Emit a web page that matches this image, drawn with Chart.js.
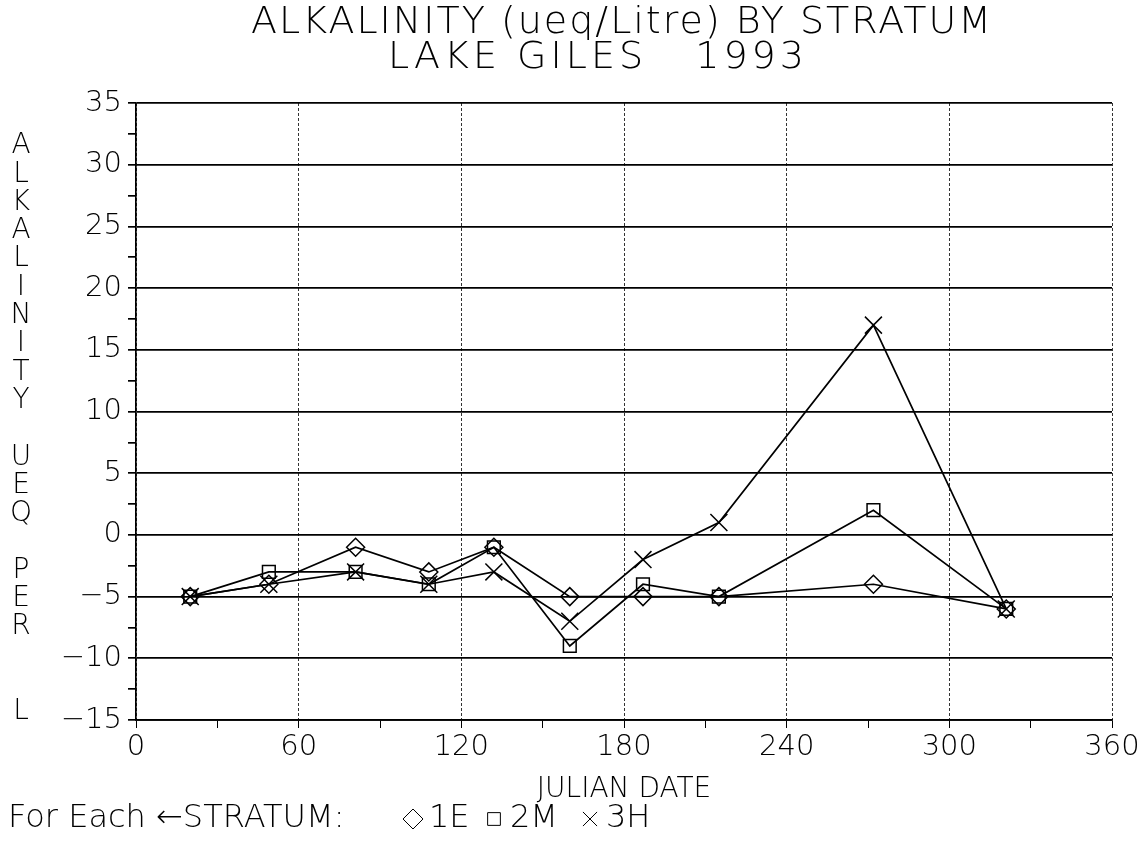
<!DOCTYPE html>
<html>
<head>
<meta charset="utf-8">
<script src="https://cdn.jsdelivr.net/npm/chart.js@4.4.0/dist/chart.umd.min.js"></script>
<style>
  html, body { margin: 0; padding: 0; background: #fff; }
  #wrap { width: 1143px; height: 843px; position: relative; }
</style>
</head>
<body>
<div id="wrap"><canvas id="chart" width="1143" height="843"></canvas></div>
<script>
// data
const julianDays = [20, 49, 81, 108, 132, 160, 187, 215, 272, 321];
const stratum1E = [-5, -4, -1, -3, -1, -5, -5, -5, -4, -6];
const stratum2M = [-5, -3, -3, -4, -1, -9, -4, -5, 2, -6];
const stratum3H = [-5, -4, -3, -4, -3, -7, -2, 1, 17, -6];
const seriesLabels = ["1E", "2M", "3H"];
const pointStyles = ["rectRot", "rect", "crossRot"];

const yRange = [-15, 35];
const xRange = [0, 360];

const titleLines = ["ALKALINITY (ueq/Litre) BY STRATUM", "LAKE GILES   1993"];
const yTitle = "ALKALINITY UEQ PER  L";
const xTitle = "JULIAN DATE";
const legendPrefix = "For Each \u2190STRATUM:";

const FONT = '"DejaVu Sans", "Liberation Sans", sans-serif';

const toPoints = (ys) => julianDays.map((d, i) => ({ x: d, y: ys[i] }));
const allSeries = [stratum1E, stratum2M, stratum3H];
const radii = [9, 9, 12];

// title, stacked y title and the one-line legend
const decorations = {
  id: "decorations",
  afterDraw(chart) {
    const ctx = chart.ctx;
    const area = chart.chartArea;
    ctx.save();
    ctx.fillStyle = "#000";
    ctx.strokeStyle = "#000";
    ctx.textAlign = "center";
    ctx.textBaseline = "middle";

    ctx.font = "200 38px " + FONT;
    const cx = (area.left + area.right) / 2 - 2;
    ctx.letterSpacing = "2px";
    ctx.fillText(titleLines[0], cx, 23);
    ctx.letterSpacing = "4px";
    ctx.fillText(titleLines[1], cx - 24, 58);
    ctx.letterSpacing = "0px";

    ctx.font = "200 28px " + FONT;
    [...yTitle].forEach((ch, i) => {
      if (ch !== " ") ctx.fillText(ch, 21, 146 + i * 28.3);
    });

    ctx.textAlign = "left";
    ctx.font = "200 32px " + FONT;
    ctx.fillText(legendPrefix, 8, 819);
    const markX = [413, 494, 590];
    const markR = [10, 9, 10];
    chart.data.datasets.forEach((ds, i) => {
      ctx.fillStyle = "rgba(0,0,0,0)";
      Chart.helpers.drawPoint(ctx, { pointStyle: ds.pointStyle, radius: markR[i], borderWidth: 1.4, rotation: 0 }, markX[i], 819);
      ctx.fillStyle = "#000";
      ctx.fillText(ds.label, markX[i] + 16, 819);
    });
    ctx.restore();
  }
};

new Chart(document.getElementById("chart"), {
  type: "line",
  data: {
    datasets: allSeries.map((ys, i) => ({
      label: seriesLabels[i],
      data: toPoints(ys),
      borderColor: "#000",
      borderWidth: 1.7,
      pointStyle: pointStyles[i],
      pointRadius: radii[i],
      pointBorderColor: "#000",
      pointBorderWidth: 1.5,
      pointBackgroundColor: "rgba(0,0,0,0)",
      tension: 0,
      fill: false
    }))
  },
  options: {
    responsive: false,
    animation: false,
    devicePixelRatio: 1,
    layout: { padding: { top: 103, right: 31, bottom: 36, left: 0 } },
    plugins: {
      legend: { display: false },
      title: { display: false },
      tooltip: { enabled: false }
    },
    scales: {
      x: {
        type: "linear",
        min: xRange[0],
        max: xRange[1],
        afterFit: (scale) => { scale.height = 87; },
        ticks: {
          stepSize: 30,
          autoSkip: false,
          maxRotation: 0,
          padding: 2,
          color: "#000",
          font: { family: FONT, size: 29, weight: 200 },
          callback: (v) => (v % 60 === 0 ? String(v) : "")
        },
        grid: {
          color: (c) => (c.tick && c.tick.value % 60 === 0 ? "#333" : "rgba(0,0,0,0)"),
          lineWidth: 1,
          tickColor: "#000",
          tickLength: 8
        },
        border: { color: "#000", width: 1.7, dash: [3, 2] },
        title: {
          display: true,
          text: xTitle,
          color: "#000",
          padding: 0,
          font: { family: FONT, size: 28, weight: 200 }
        }
      },
      y: {
        min: yRange[0],
        max: yRange[1],
        afterFit: (scale) => { scale.width = 136; },
        ticks: {
          stepSize: 2.5,
          autoSkip: false,
          padding: 6,
          color: "#000",
          font: { family: FONT, size: 29, weight: 200 },
          callback: (v) => (v % 5 === 0 ? String(v).replace("-", "\u2212") : "")
        },
        grid: {
          color: (c) => (c.tick && c.tick.value % 5 === 0 ? "#000" : "rgba(0,0,0,0)"),
          lineWidth: 1.7,
          tickColor: "#000",
          tickLength: 8
        },
        border: { color: "#000", width: 1.7 }
      }
    }
  },
  plugins: [decorations]
});
</script>
</body>
</html>
